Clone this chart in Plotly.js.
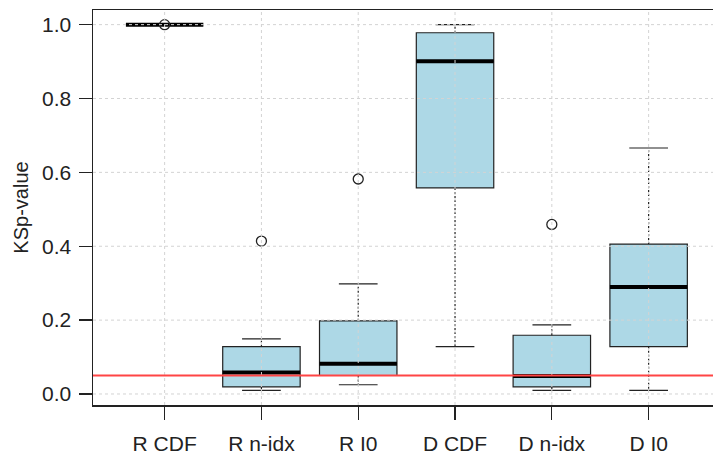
<!DOCTYPE html>
<html>
<head>
<meta charset="utf-8">
<script src="https://cdn.plot.ly/plotly-3.0.1.min.js"></script>
<style>html,body{margin:0;padding:0;background:#fff;}#chart{width:713px;height:455px;}</style>
</head>
<body>
<div id="chart"></div>
<script>
const categories = ["R CDF", "R n-idx", "R I0", "D CDF", "D n-idx", "D I0"];
const positions = [1, 2, 3, 4, 5, 6];
const q1Vals     = [1.000, 0.019, 0.050, 0.558, 0.019, 0.128];
const medianVals = [1.000, 0.058, 0.082, 0.901, 0.049, 0.290];
const q3Vals     = [1.000, 0.128, 0.198, 0.978, 0.159, 0.406];
const lowerWhisk = [1.000, 0.010, 0.025, 0.128, 0.010, 0.010];
const upperWhisk = [1.000, 0.149, 0.298, 1.000, 0.187, 0.666];
const outlierX = [1, 2, 3, 5];
const outlierY = [0.9999, 0.414, 0.582, 0.459];
const threshold = 0.05;
const yTicks = [0, 0.2, 0.4, 0.6, 0.8, 1.0];
const yTickText = ["0.0", "0.2", "0.4", "0.6", "0.8", "1.0"];

const boxHalf = 0.4, capHalf = 0.2;
const dark = '#222222';
const font = "'Liberation Sans', Arial, Helvetica, sans-serif";

const stemX = [], stemY = [], capX = [], capY = [], medX = [], medY = [];
positions.forEach((p, i) => {
  stemX.push(p, p, null, p, p, null);
  stemY.push(q3Vals[i], upperWhisk[i], null, q1Vals[i], lowerWhisk[i], null);
  capX.push(p - capHalf, p + capHalf, null, p - capHalf, p + capHalf, null);
  capY.push(upperWhisk[i], upperWhisk[i], null, lowerWhisk[i], lowerWhisk[i], null);
  medX.push(p - boxHalf, p + boxHalf, null);
  medY.push(medianVals[i], medianVals[i], null);
});

const traces = [
  {type: 'scatter', mode: 'lines', x: stemX, y: stemY, hoverinfo: 'skip',
   line: {color: dark, width: 1.2, dash: '2px,2px'}, showlegend: false},
  {type: 'scatter', mode: 'lines', x: capX, y: capY, hoverinfo: 'skip',
   line: {color: dark, width: 1.2}, showlegend: false},
  {type: 'box', x: positions, q1: q1Vals, median: medianVals, q3: q3Vals,
   lowerfence: q1Vals, upperfence: q3Vals, width: 0.8, whiskerwidth: 0,
   fillcolor: '#ADD8E6', line: {color: dark, width: 1.2}, boxpoints: false,
   showlegend: false, hoverinfo: 'skip'},
  {type: 'scatter', mode: 'lines', x: medX, y: medY, hoverinfo: 'skip',
   line: {color: '#000000', width: 4}, showlegend: false},
  {type: 'scatter', mode: 'markers', x: outlierX, y: outlierY, hoverinfo: 'skip',
   marker: {symbol: 'circle-open', size: 10, color: dark, line: {width: 1.3, color: dark}},
   showlegend: false}
];

const shapes = [];
positions.forEach(p => shapes.push({type: 'line', layer: 'above', xref: 'x', yref: 'paper',
  x0: p, x1: p, y0: 0, y1: 1, line: {color: '#d3d3d3', width: 1, dash: 'dot'}}));
yTicks.forEach(v => shapes.push({type: 'line', layer: 'above', xref: 'paper', yref: 'y',
  x0: 0, x1: 1, y0: v, y1: v, line: {color: '#d3d3d3', width: 1, dash: 'dot'}}));
shapes.push({type: 'line', layer: 'above', xref: 'paper', yref: 'y', x0: 0, x1: 1,
  y0: threshold, y1: threshold, line: {color: '#ff4545', width: 1.8}});

const layout = {
  width: 713, height: 455,
  margin: {l: 93, r: 0, t: 10, b: 50},
  paper_bgcolor: '#ffffff', plot_bgcolor: '#ffffff',
  font: {family: font, size: 21, color: dark},
  showlegend: false,
  xaxis: {
    range: [0.26, 6.665], tickvals: positions, ticktext: categories,
    ticks: 'outside', ticklen: 13, tickwidth: 1.3, tickcolor: dark,
    showgrid: false, zeroline: false, showline: true, mirror: true,
    linecolor: dark, linewidth: 1.5, tickfont: {size: 21, color: dark},
    ticklabelstandoff: 6
  },
  yaxis: {
    range: [-0.0298, 1.0396], tickvals: yTicks, ticktext: yTickText,
    ticks: 'outside', ticklen: 13, tickwidth: 1.3, tickcolor: dark,
    showgrid: false, zeroline: false, showline: true,
    linecolor: dark, linewidth: 1.5, tickfont: {size: 21, color: dark},
    ticklabelstandoff: 3,
    title: {text: 'KSp-value', font: {size: 20, color: dark}, standoff: 8}
  },
  shapes: shapes
};

Plotly.newPlot('chart', traces, layout, {staticPlot: true, displayModeBar: false});
</script>
</body>
</html>
